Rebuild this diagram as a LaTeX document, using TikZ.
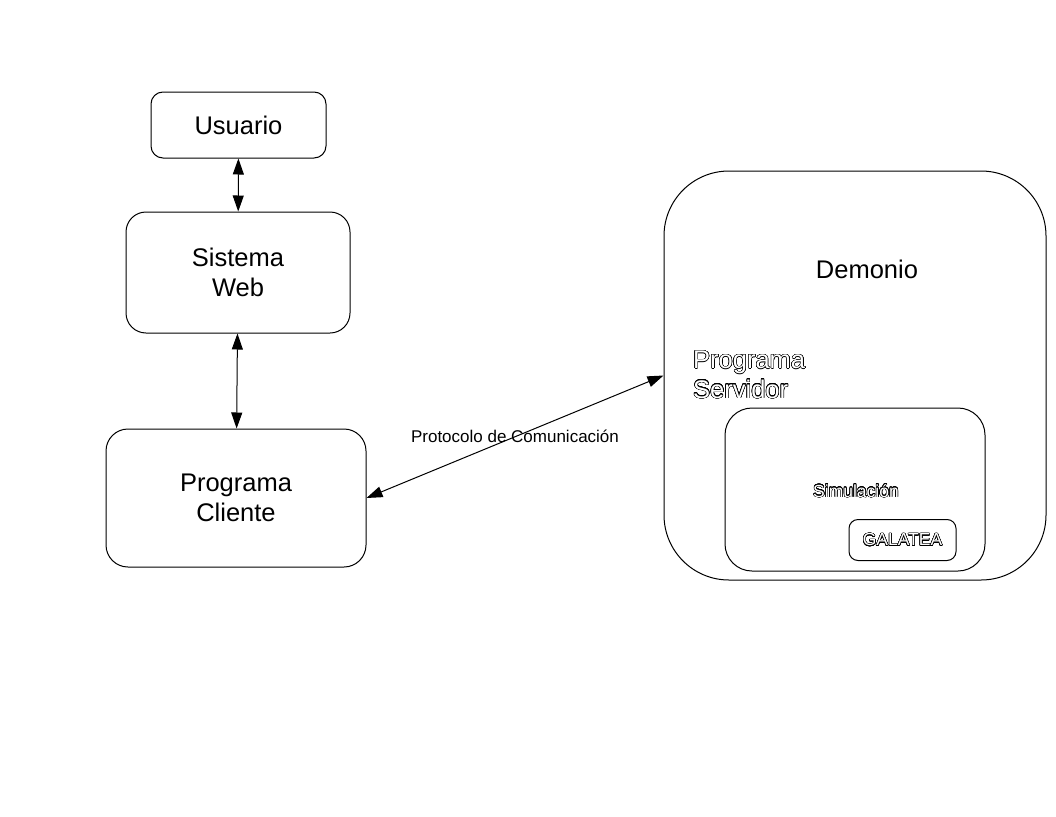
\documentclass[tikz,border=0pt]{standalone}
\usepackage{fontspec}
\setmainfont{Liberation Sans}
\usepackage{contour}
\usetikzlibrary{arrows.meta}
\contourlength{0.5pt}
\contournumber{24}
\newcommand{\hueco}[1]{\contour{black}{\textcolor{white}{#1}}}
\tikzset{
  caja/.style={draw=black, line width=1pt, rounded corners=#1, inner sep=0pt},
  caja/.default=15pt,
  flecha/.style={arrows={Triangle[length=16pt,width=11pt]-Triangle[length=16pt,width=11pt]}, line width=1pt},
  grande/.style={font=\fontsize{25.5}{29.5}\selectfont},
  chica/.style={font=\fontsize{17.5}{21}\selectfont},
}
\begin{document}
\begin{tikzpicture}[x=1pt,y=-1pt]
\useasboundingbox (0,0) rectangle (1056,816);
% lado del cliente
\node [caja=12pt, minimum width=175pt, minimum height=66pt, grande, align=center] (usuario) at (238.5,125) {Usuario};
\node [caja=20pt, minimum width=224pt, minimum height=121pt, grande, align=center] (sistema) at (238,272.5) {Sistema\\Web};
\node [caja=22pt, minimum width=260pt, minimum height=138pt, grande, align=center] (cliente) at (236,498) {Programa\\Cliente};
% lado del servidor
\node [caja=65pt, minimum width=382pt, minimum height=409pt] (demonio) at (855,375.5) {};
\node [grande, anchor=base, inner sep=0pt] (demoniotxt) at (867,278) {Demonio};
\node [grande, anchor=base west, inner sep=0pt, align=left] (servidor) at (693,398) {\hueco{Programa}\\\hueco{Servidor}};
\node [caja=27pt, minimum width=260pt, minimum height=163pt] (simulacion) at (855,489.5) {};
\node [chica, anchor=base, inner sep=0pt] (simtxt) at (856,497) {\hueco{Simulación}};
\node [caja=9pt, minimum width=107pt, minimum height=41pt, chica] (galatea) at (902.5,540) {\hueco{GALATEA}};
% conexiones
\draw [flecha] (usuario) -- (sistema);
\draw [flecha] (sistema) -- (cliente);
\draw [flecha] (cliente.east) -- (demonio.west) node [midway, font=\fontsize{17}{20}\selectfont, inner sep=0pt] (protocolo) {Protocolo de Comunicación};
\end{tikzpicture}
\end{document}
